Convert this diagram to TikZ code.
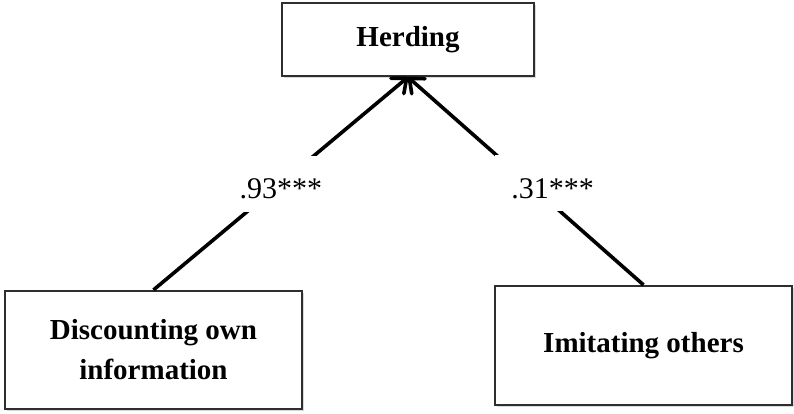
\documentclass[tikz,border=0pt]{standalone}
\usepackage{fontspec}
\setmainfont{Liberation Serif}
\usetikzlibrary{arrows.meta,shadows}

\tikzset{
  box/.style={draw=black!82, line width=2.2pt, fill=white, inner sep=0pt,
    align=center, font=\bfseries\fontsize{29}{40}\selectfont,
    drop shadow={shadow xshift=2pt, shadow yshift=-2pt, opacity=0.25, fill=black!60}},
  conn/.style={line width=3.6pt,
    -{Straight Barb[length=12pt, width=20pt, line width=3.6pt, round]}},
  gap/.style={fill=white, inner sep=0pt, minimum height=56pt,
    text height=30pt, text depth=0pt, font=\fontsize{30}{34}\selectfont}
}

\begin{document}
\begin{tikzpicture}[x=1pt, y=-1pt]
  \useasboundingbox (0,0) rectangle (794,413);

  % outcome and the two antecedents
  \node[box, minimum width=252pt, minimum height=73pt] (herd) at (408,39.5) {Herding};
  \node[box, minimum width=297pt, minimum height=118pt] (disc) at (153.5,350) {Discounting own\\information};
  \node[box, minimum width=297pt, minimum height=119pt] (imit) at (643.5,345.5) {Imitating others};

  % standardised path coefficients
  \draw[conn] (disc.north) -- node[gap, pos=0.5, minimum width=80pt] (c1) {.93***} (herd.south);
  \draw[conn] (imit.north) -- node[gap, pos=0.488, xshift=16pt, minimum width=100pt] (c2) {\hspace*{16pt}.31***} (herd.south);
\end{tikzpicture}
\end{document}
